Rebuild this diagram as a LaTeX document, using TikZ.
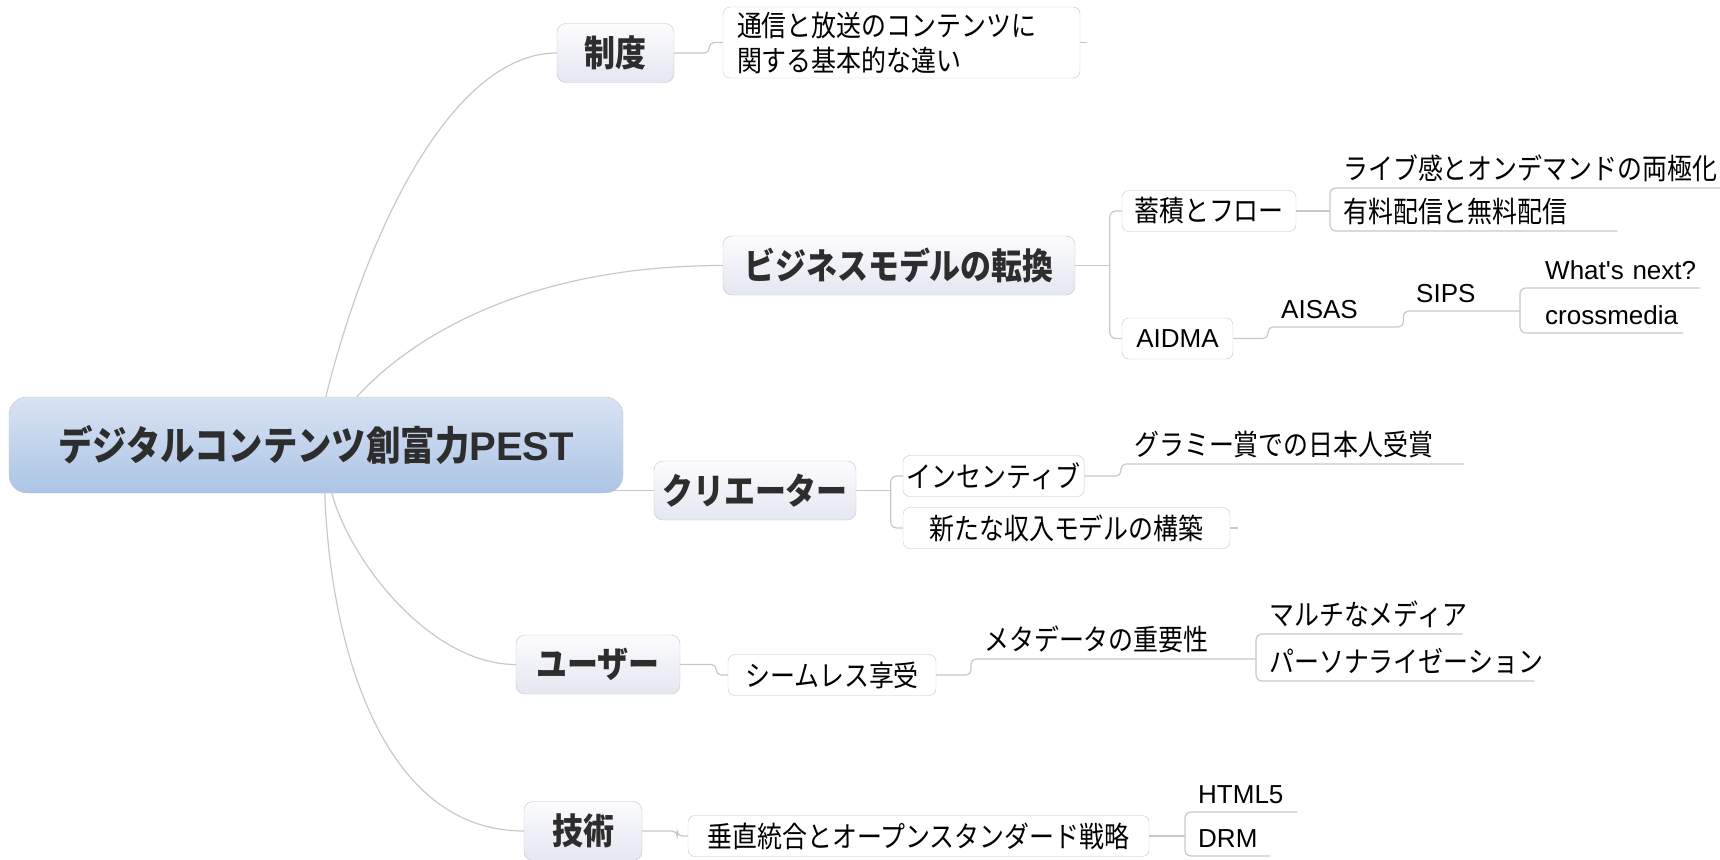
\documentclass[tikz,border=0pt]{standalone}
\usepackage{fontspec}
\setmainfont{Liberation Sans}
\newfontfamily\jp[FakeStretch=0.86]{Noto Sans CJK JP}
\usetikzlibrary{backgrounds}

\definecolor{linkgray}{RGB}{200,200,200}
\definecolor{boxedge}{RGB}{196,196,200}
\definecolor{roottop}{RGB}{216,227,242}
\definecolor{rootbot}{RGB}{172,196,230}
\definecolor{maintop}{RGB}{252,252,254}
\definecolor{mainbot}{RGB}{228,230,241}
\definecolor{textdark}{RGB}{45,45,45}

\tikzset{
  link/.style={draw=linkgray,line width=1.2pt},
  rootbox/.style={draw=boxedge,rounded corners=18pt,top color=roottop,bottom color=rootbot,
    minimum width=614pt,minimum height=96pt,text=textdark,
    font=\jp\bfseries\fontsize{40}{46}\selectfont},
  topic/.style={draw=boxedge,rounded corners=9pt,top color=maintop,bottom color=mainbot,
    minimum height=59pt,inner xsep=4pt,text=textdark,
    font=\jp\bfseries\fontsize{36}{42}\selectfont},
  subtopic/.style={draw=boxedge,rounded corners=7pt,fill=white,
    minimum height=41pt,inner xsep=4pt,font=\jp\fontsize{29}{35}\selectfont},
  leaf/.style={anchor=south west,inner xsep=0pt,inner ysep=8pt,text depth=0pt,
    align=left,execute at begin node={\noindent\hspace*{13pt}},
    font=\jp\fontsize{29}{34}\selectfont},
  latin/.style={font=\fontsize{26}{30}\selectfont},
}

\begin{document}
\begin{tikzpicture}[x=1pt,y=-1pt]
\useasboundingbox (0,0) rectangle (1720,859);

% centre and main topics
\node[rootbox] (root) at (316,445) {デジタルコンテンツ創富力{\rmfamily PEST}};
\node[topic,minimum width=117pt] (seido) at (615.5,53) {制度};
\node[topic,minimum width=352pt] (biz) at (899,265.5) {ビジネスモデルの転換};
\node[topic,minimum width=202pt] (crea) at (755,490.5) {クリエーター};
\node[topic,minimum width=164pt] (user) at (598,664.5) {ユーザー};
\node[topic,minimum width=118pt] (tech) at (583,831) {技術};

% second level
\node[subtopic,minimum height=71pt,inner xsep=14pt,text width=329pt,align=left] (tsushin) at (901.5,42.5) {通信と放送のコンテンツに\\関する基本的な違い};
\node[subtopic,minimum width=174pt] (chiku) at (1209,211) {蓄積とフロー};
\node[subtopic,minimum width=111pt,latin] (aidma) at (1177.5,338.5) {AIDMA};
\node[subtopic,minimum width=181pt] (incen) at (993.5,476) {インセンティブ};
\node[subtopic,minimum width=327pt] (shinta) at (1066.5,528) {新たな収入モデルの構築};
\node[subtopic,minimum width=208pt] (seam) at (832,675) {シームレス享受};
\node[subtopic,minimum width=461pt] (suichoku) at (918.5,836) {垂直統合とオープンスタンダード戦略};

% underlined leaves
\node[leaf,text width=390pt] (live) at (1330,188) {ライブ感とオンデマンドの両極化};
\node[leaf,text width=287pt] (paid) at (1330,231) {有料配信と無料配信};
\node[leaf,latin,text width=135pt] (aisas) at (1268,327) {AISAS};
\node[leaf,latin,text width=117pt] (sips) at (1403,311) {SIPS};
\node[leaf,latin,text width=180pt,execute at begin node={\noindent\hspace*{12pt}}] (whats) at (1520,288) {What\textquotesingle s next?};
\node[leaf,latin,text width=163pt,execute at begin node={\noindent\hspace*{12pt}}] (cross) at (1520,333) {crossmedia};
\node[leaf,text width=343pt] (grammy) at (1121,464) {グラミー賞での日本人受賞};
\node[leaf,text width=285pt] (meta) at (971,659) {メタデータの重要性};
\node[leaf,text width=206pt] (multi) at (1256,634) {マルチなメディア};
\node[leaf,text width=278pt] (perso) at (1256,681) {パーソナライゼーション};
\node[leaf,latin,text width=112pt] (html) at (1185,812) {HTML5};
\node[leaf,latin,text width=85pt] (drm) at (1185,856) {DRM};

\begin{scope}[on background layer]
  % curves from the centre
  \draw[link] ([xshift=317pt]root.north west) .. controls +(45,-180) and +(-100,0) .. (seido.west);
  \draw[link] ([xshift=348pt]root.north west) .. controls +(38,-42) and +(-220,0) .. (biz.west);
  \draw[link] (root.east |- crea.west) ++(-14,0) -- (crea.west);
  \draw[link] ([xshift=323pt]root.south west) .. controls +(18,67) and +(-86,0) .. (user.west);
  \draw[link] ([xshift=316pt]root.south west) .. controls +(5,147) and +(-144,0) .. (tech.west);

  % brackets and underlines
  \draw[link,rounded corners=5pt] (seido.east) -- ++(35,0) |- (tsushin.west);
  \draw[link] (tsushin.east) -- ++(7,0);
  \draw[link] (biz.east) -- ++(35,0);
  \draw[link,rounded corners=6pt] (chiku.west) -- ++(-12,0) |- (aidma.west);
  \draw[link] (chiku.east) -- (chiku.east -| live.south west);
  \draw[link,rounded corners=6pt] (live.south east) -- (live.south west) -- (paid.south west) -- (paid.south east);
  \draw[link,rounded corners=5pt] (aidma.east) -| (aisas.south west) -- (aisas.south east) |- (sips.south east);
  \draw[link,rounded corners=6pt] (whats.south east) -- (whats.south west) -- (cross.south west) -- (cross.south east);
  \draw[link] (crea.east) -- ++(35,0);
  \draw[link,rounded corners=6pt] (incen.west) -- ++(-12,0) |- (shinta.west);
  \draw[link,rounded corners=5pt] (incen.east) -| (grammy.south west) -- (grammy.south east);
  \draw[link] (shinta.east) -- ++(8,0);
  \draw[link,rounded corners=5pt] (user.east) -- ++(36,0) |- (seam.west);
  \draw[link,rounded corners=5pt] (seam.east) -| (meta.south west) -- (meta.south east);
  \draw[link,rounded corners=6pt] (multi.south east) -- (multi.south west) -- (perso.south west) -- (perso.south east);
  \draw[link,rounded corners=5pt] (tech.east) -- ++(35,0) |- (suichoku.west);
  \draw[link] (suichoku.east) -- (suichoku.east -| html.south west);
  \draw[link,rounded corners=6pt] (html.south east) -- (html.south west) -- (drm.south west) -- (drm.south east);
\end{scope}
\end{tikzpicture}
\end{document}
